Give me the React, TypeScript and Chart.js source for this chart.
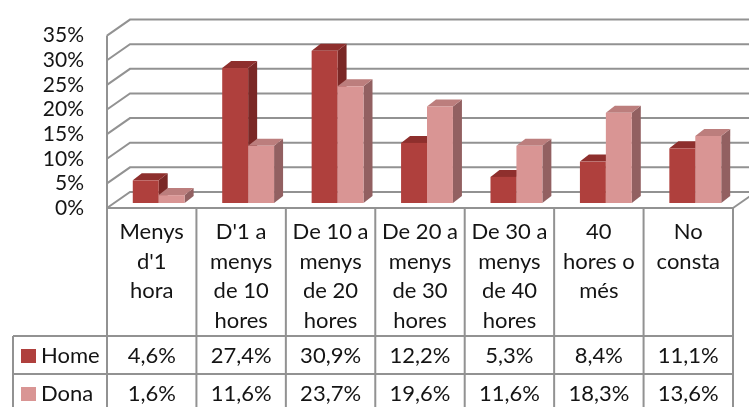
import React, { useEffect, useRef } from "react";
import { Chart, registerables } from "chart.js";

Chart.register(...registerables);

const categories: string[][] = [
  ["Menys", "d'1", "hora"],
  ["D'1 a", "menys", "de 10", "hores"],
  ["De 10 a", "menys", "de 20", "hores"],
  ["De 20 a", "menys", "de 30", "hores"],
  ["De 30 a", "menys", "de 40", "hores"],
  ["40", "hores o", "més"],
  ["No", "consta"],
];
const homeValues = [4.6, 27.4, 30.9, 12.2, 5.3, 8.4, 11.1];
const donaValues = [1.6, 11.6, 23.7, 19.6, 11.6, 18.3, 13.6];
const seriesNames = ["Home", "Dona"];
const yTicks = [0, 5, 10, 15, 20, 25, 30, 35];

const FONT = "Lato, 'Open Sans', sans-serif";
const TEXT = "#141414";
const GRID = "#929292";
const COLORS = [
  { front: "#AF403D", top: "#8E2F2D", side: "#7A2826" },
  { front: "#D99594", top: "#BC7E7D", side: "#926061" },
];

// 3D geometry (pixels)
const WALL_DX = 23;
const WALL_DY = -16;
const PLANE_DX = 7;
const PLANE_DY = -5;
const BAR_DX = 9;
const BAR_DY = -7;

const fmt = (v: number) => v.toFixed(1).replace(".", ",") + "%";

const depthPlugin = {
  id: "depth3d",
  beforeDatasetsDraw(chart: any) {
    const { ctx, chartArea, scales } = chart;
    const { left, right, top, bottom } = chartArea;
    const y = scales.y;
    ctx.save();
    ctx.strokeStyle = GRID;
    ctx.lineWidth = 2;
    ctx.lineJoin = "miter";
    for (const t of y.ticks) {
      const py = y.getPixelForValue(t.value);
      ctx.beginPath();
      ctx.moveTo(left, py);
      ctx.lineTo(left + WALL_DX, py + WALL_DY);
      ctx.lineTo(right + WALL_DX, py + WALL_DY);
      ctx.stroke();
    }
    ctx.beginPath();
    ctx.moveTo(left, top);
    ctx.lineTo(left, bottom);
    ctx.stroke();
    ctx.beginPath();
    ctx.moveTo(right, bottom);
    ctx.lineTo(right + WALL_DX, bottom + WALL_DY);
    ctx.stroke();
    ctx.restore();
  },
  afterDatasetsDraw(chart: any) {
    const { ctx } = chart;
    const n = chart.data.labels.length;
    ctx.save();
    for (let i = 0; i < n; i++) {
      chart.data.datasets.forEach((_ds: any, di: number) => {
        const meta = chart.getDatasetMeta(di);
        const el = meta.data[i];
        if (!el) return;
        const p = el.getProps(["x", "y", "base", "width"], true);
        const x0 = p.x - p.width / 2 + PLANE_DX;
        const x1 = p.x + p.width / 2 + PLANE_DX;
        const yt = p.y + PLANE_DY;
        const yb = p.base + PLANE_DY;
        const c = COLORS[di];
        ctx.fillStyle = c.side;
        ctx.beginPath();
        ctx.moveTo(x1, yt);
        ctx.lineTo(x1 + BAR_DX, yt + BAR_DY);
        ctx.lineTo(x1 + BAR_DX, yb + BAR_DY);
        ctx.lineTo(x1, yb);
        ctx.closePath();
        ctx.fill();
        ctx.fillStyle = c.top;
        ctx.beginPath();
        ctx.moveTo(x0, yt);
        ctx.lineTo(x0 + BAR_DX, yt + BAR_DY);
        ctx.lineTo(x1 + BAR_DX, yt + BAR_DY);
        ctx.lineTo(x1, yt);
        ctx.closePath();
        ctx.fill();
        ctx.fillStyle = c.front;
        ctx.fillRect(x0, yt, x1 - x0, yb - yt);
      });
    }
    ctx.restore();
  },
  afterDraw(chart: any) {
    const { ctx, chartArea } = chart;
    const { left, right, bottom } = chartArea;
    const n = categories.length;
    const colW = (right - left) / n;
    const headerBottom = bottom + 128;
    const rowH = 38;
    const legendLeft = 13;
    const tableBottom = headerBottom + rowH * 2 + 10;
    ctx.save();
    ctx.strokeStyle = GRID;
    ctx.lineWidth = 2;
    ctx.beginPath();
    ctx.moveTo(left, bottom);
    ctx.lineTo(right, bottom);
    ctx.moveTo(legendLeft, headerBottom);
    ctx.lineTo(right, headerBottom);
    ctx.moveTo(legendLeft, headerBottom + rowH);
    ctx.lineTo(right, headerBottom + rowH);
    for (let i = 0; i <= n; i++) {
      const x = left + i * colW;
      ctx.moveTo(x, bottom);
      ctx.lineTo(x, tableBottom);
    }
    ctx.moveTo(legendLeft, headerBottom);
    ctx.lineTo(legendLeft, tableBottom);
    ctx.stroke();

    ctx.fillStyle = TEXT;
    ctx.font = `22px ${FONT}`;
    ctx.textAlign = "center";
    ctx.textBaseline = "middle";
    categories.forEach((lines, i) => {
      const cx = left + (i + 0.5) * colW;
      lines.forEach((ln, j) => {
        ctx.fillText(ln, cx, bottom + 24 + j * 29.7);
      });
    });
    const rows = [homeValues, donaValues];
    rows.forEach((vals, r) => {
      const cy = headerBottom + rowH * r + rowH / 2 + 1;
      vals.forEach((v, i) => {
        const cx = left + (i + 0.5) * colW;
        ctx.fillStyle = TEXT;
        ctx.textAlign = "center";
        ctx.fillText(fmt(v), cx, cy);
      });
      ctx.fillStyle = COLORS[r].front;
      ctx.fillRect(21, cy - 7, 15, 14);
      ctx.fillStyle = TEXT;
      ctx.textAlign = "left";
      ctx.fillText(seriesNames[r], 41, cy);
    });
    ctx.restore();
  },
};

export default function App() {
  const ref = useRef<HTMLCanvasElement | null>(null);
  useEffect(() => {
    document.body.style.margin = "0";
    const canvas = ref.current;
    if (!canvas) return;
    const chart = new Chart(canvas, {
      type: "bar",
      data: {
        labels: categories,
        datasets: [
          { label: seriesNames[0], data: homeValues, backgroundColor: "rgba(0,0,0,0)" },
          { label: seriesNames[1], data: donaValues, backgroundColor: "rgba(0,0,0,0)" },
        ],
      },
      options: {
        responsive: false,
        animation: false,
        events: [],
        layout: { padding: { left: 0, right: 16, top: 29, bottom: 199 } },
        plugins: { legend: { display: false }, tooltip: { enabled: false } },
        datasets: { bar: { categoryPercentage: 0.58, barPercentage: 1.0 } },
        scales: {
          x: { display: false },
          y: {
            min: yTicks[0],
            max: yTicks[yTicks.length - 1],
            afterFit: (s: any) => {
              s.width = 107;
            },
            afterBuildTicks: (s: any) => {
              s.ticks = yTicks.map((v) => ({ value: v }));
            },
            grid: { display: false, drawTicks: false },
            border: { display: false },
            ticks: {
              stepSize: 5,
              autoSkip: false,
              padding: 23,
              color: TEXT,
              font: { family: FONT, size: 21 },
              callback: (v: any) => v + "%",
            },
          },
        },
      },
      plugins: [depthPlugin],
    } as any);
    return () => chart.destroy();
  }, []);
  return <canvas ref={ref} width={749} height={407} style={{ display: "block" }} />;
}
